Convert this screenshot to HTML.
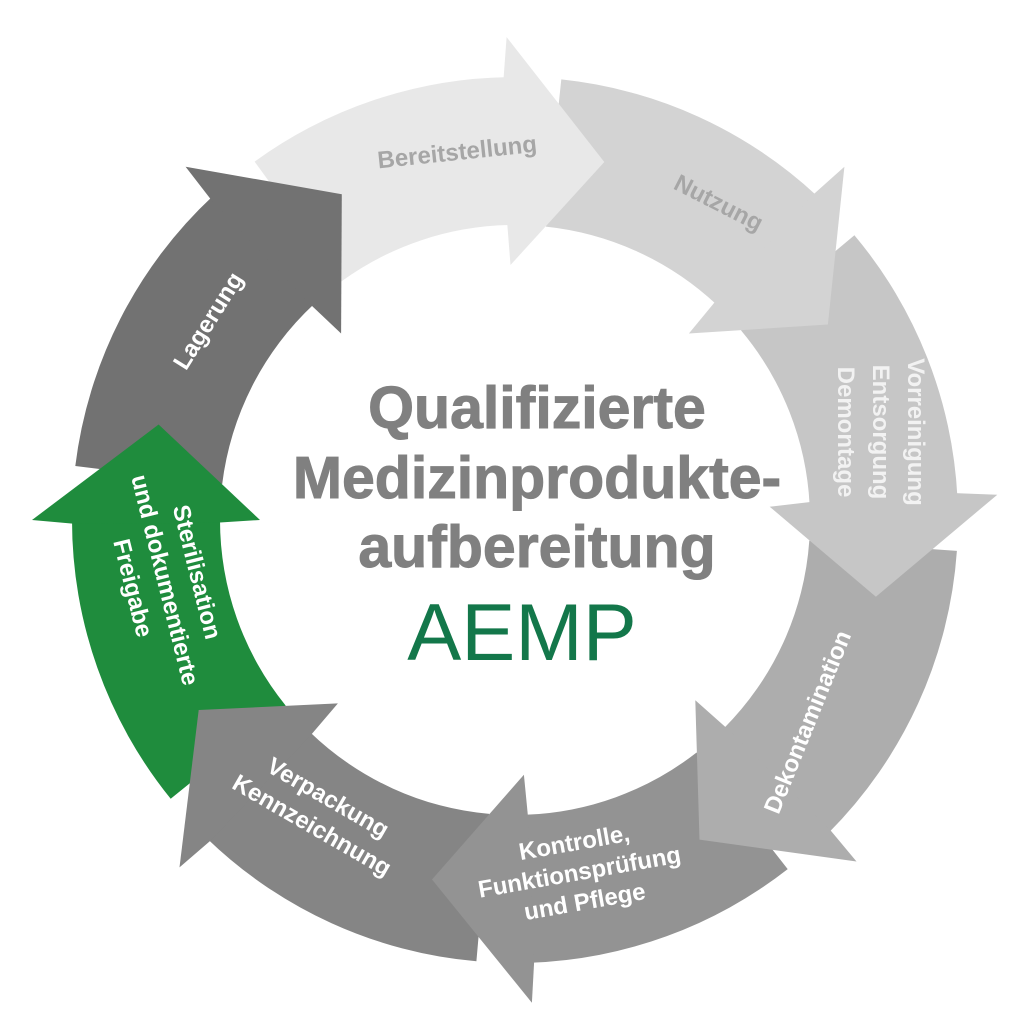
<!DOCTYPE html>
<html><head><meta charset="utf-8"><style>
html,body{margin:0;padding:0;background:#fff;width:1020px;height:1024px;overflow:hidden}
svg{display:block}
text{font-family:"Liberation Sans",sans-serif;font-weight:bold}
</style></head><body>
<svg id="s" width="1020" height="1024" viewBox="0 0 1020 1024">
<g id="arrows"></g>
<g font-size="24" fill="#fff" text-anchor="middle">
<text x="0" y="0" fill="#a6a6a6" transform="translate(458,160) rotate(-6)">Bereitstellung</text>
<text x="0" y="0" fill="#a6a6a6" transform="translate(715,210) rotate(27)">Nutzung</text>
<g transform="translate(860,432) rotate(90)" fill="#f2f2f2">
<text x="0" y="-48">Vorreinigung</text>
<text x="0" y="-13">Entsorgung</text>
<text x="0" y="22">Demontage</text>
</g>
<text x="0" y="0" transform="translate(815,725) rotate(-68)">Dekontamination</text>
<g transform="translate(580,875) rotate(-10)">
<text x="0" y="-25">Kontrolle,</text>
<text x="0" y="5">Funktionsprüfung</text>
<text x="0" y="35">und Pflege</text>
</g>
<g transform="translate(318,815) rotate(30)">
<text x="0" y="-12">Verpackung</text>
<text x="0" y="20">Kennzeichnung</text>
</g>
<g transform="translate(165,580) rotate(76)">
<text x="0" y="-25">Sterilisation</text>
<text x="0" y="8">und dokumentierte</text>
<text x="0" y="41">Freigabe</text>
</g>
<text x="0" y="0" transform="translate(215,325) rotate(-58)">Lagerung</text>
</g>
<g text-anchor="middle" fill="#808080" font-size="59" stroke="#808080" stroke-width="1">
<text x="537" y="428">Qualifizierte</text>
<text x="537" y="498">Medizinprodukte-</text>
<text x="537" y="567">aufbereitung</text>
</g>
<text x="522" y="660" text-anchor="middle" fill="#13774a" font-size="81" style="font-weight:normal">AEMP</text>
</svg>
<script>
var cx=515,cy=520,Ri=295,Ro=443,Rm=369;
var arrows=[
 {tip:-76,c:"#e8e8e8"},
 {tip:-32,c:"#d3d3d3"},
 {tip:12,c:"#c6c6c6"},
 {tip:60,c:"#adadad"},
 {tip:103,c:"#939393"},
 {tip:149,c:"#858585"},
 {tip:195,c:"#1f8c3d"},
 {tip:242,c:"#727272"}
];
function P(r,a){a=a*Math.PI/180;return (cx+r*Math.cos(a)).toFixed(1)+","+(cy+r*Math.sin(a)).toFixed(1);}
var g=document.getElementById("arrows"),bodies="",heads="";
for(var i=0;i<8;i++){
 var t=arrows[i].tip,prev=arrows[(i+7)%8].tip;if(prev>t)prev-=360;
 var a0=prev-8,hb=t-15;
 bodies+='<path fill="'+arrows[i].c+'" d="M'+P(Ro,a0)+' A'+Ro+','+Ro+' 0 0 1 '+P(Ro,hb)+' L'+P(Ri,hb)+' A'+Ri+','+Ri+' 0 0 0 '+P(Ri,a0)+' Z"/>';
 heads+='<path fill="'+arrows[i].c+'" d="M'+P(Ro-2,hb-0.5)+' L'+P(Ro+40,hb)+' L'+P(Rm,t)+' L'+P(Ri-40,hb)+' L'+P(Ri+2,hb-0.5)+' Z"/>';
}
g.innerHTML=bodies+heads;
</script>
</body></html>
